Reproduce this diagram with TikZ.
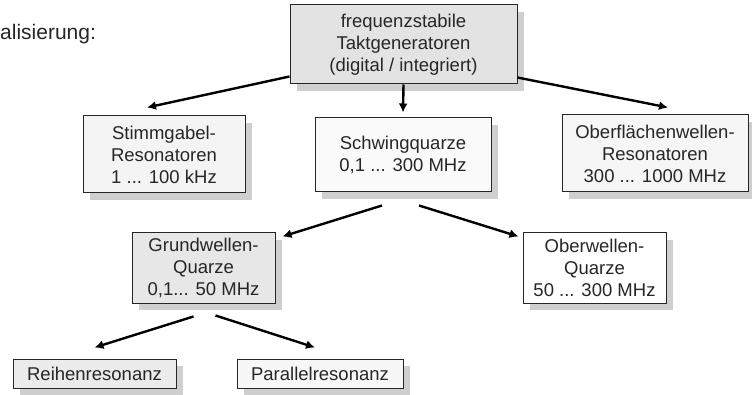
\documentclass[tikz,border=0pt]{standalone}
\usepackage{fontspec}
\setmainfont{Liberation Sans}
\usetikzlibrary{arrows.meta, shadows}
\tikzset{
x=1pt, y=-1pt, % one unit is one pixel of the sketch, y grows downwards
every node/.style={font=\fontsize{18.5}{22}\selectfont, text=black!85, align=center, inner sep=0pt},
box/.style={draw=black!85, line width=1pt, rectangle,
  drop shadow={shadow xshift=7pt, shadow yshift=-7pt, fill=gray!38, opacity=1}}, % the boxes with their grey shadow
arr/.style={-{Latex[length=9pt,width=9pt]}, line width=2.4pt}, % thick arrows between the boxes
}
\begin{document}
\begin{tikzpicture}
\useasboundingbox (0,0) rectangle (752,395);

\node[anchor=base west, font=\fontsize{21}{24}\selectfont] at (0,40) (title) {alisierung:};

\node[box, fill=gray!22, minimum width=227pt, minimum height=79pt] at (403.5,44.5) (takt) {frequenzstabile\\Taktgeneratoren\\(digital / integriert)};

\node[box, fill=gray!9, minimum width=162pt, minimum height=77pt] at (164,154.5) (stimm) {Stimmgabel-\\Resonatoren\\1 ... 100 kHz};
\node[box, fill=gray!4, minimum width=176pt, minimum height=74pt] at (403,155) (schwing) {Schwingquarze\\0,1 ... 300 MHz};
\node[box, fill=gray!7, minimum width=186pt, minimum height=77pt] at (655,153.5) (ofw) {Oberflächenwellen-\\Resonatoren\\300 ... 1000 MHz};

\node[box, fill=gray!19, minimum width=143pt, minimum height=70pt] at (203.5,268) (grund) {Grundwellen-\\Quarze\\0,1... 50 MHz};
\node[box, fill=white, minimum width=143pt, minimum height=70pt] at (594.5,268) (oberw) {Oberwellen-\\Quarze\\50 ... 300 MHz};

\node[box, fill=gray!16, minimum width=163pt, minimum height=29pt] at (94.5,373.5) (reihe) {Reihenresonanz};
\node[box, fill=gray!6, minimum width=166pt, minimum height=29pt] at (320,373.5) (parallel) {Parallelresonanz};

\draw[arr] ([yshift=8pt]takt.south west) -- ([xshift=-17pt,yshift=8pt]stimm.north);
\draw[arr] (takt.south) -- ([yshift=5pt]schwing.north);
\draw[arr] ([yshift=7pt]takt.south east) -- ([xshift=13pt,yshift=7pt]ofw.north);

\draw[arr] ([xshift=-21pt,yshift=-13pt]schwing.south) -- ([xshift=7pt,yshift=-4pt]grund.north east);
\draw[arr] ([xshift=16pt,yshift=-13pt]schwing.south) -- ([xshift=-4pt,yshift=-4pt]oberw.north west);

\draw[arr] ([xshift=-10pt,yshift=-13pt]grund.south) -- ([yshift=11pt]reihe.north);
\draw[arr] ([xshift=12pt,yshift=-12pt]grund.south) -- ([xshift=-5pt,yshift=11pt]parallel.north);

\end{tikzpicture}
\end{document}
